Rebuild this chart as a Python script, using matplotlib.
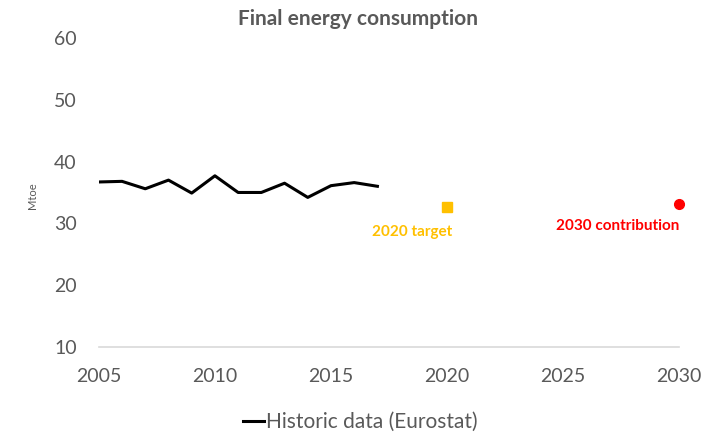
import matplotlib
matplotlib.use("Agg")
import matplotlib.pyplot as plt

# historic final energy consumption (Mtoe)
years = [2005, 2006, 2007, 2008, 2009, 2010, 2011, 2012, 2013, 2014, 2015, 2016, 2017]
consumption = [36.7, 36.8, 35.6, 37.0, 34.9, 37.7, 35.0, 35.0, 36.5, 34.2, 36.1, 36.6, 36.0]

target_year = [2020]
target_value = [32.6]
contrib_year = [2030]
contrib_value = [33.2]

xticks = [2005, 2010, 2015, 2020, 2025, 2030]
yticks = [10, 20, 30, 40, 50, 60]

plt.rcParams['font.family'] = ['Lato', 'DejaVu Sans']
grey = '#595959'

fig = plt.figure(figsize=(7.06, 4.33), dpi=100)
ax = fig.add_axes([0.140, 0.199, 0.822, 0.713])

ax.plot(years, consumption, color='black', linewidth=2.2, label='Historic data (Eurostat)')
ax.plot(target_year, target_value, 's', color='#FFC000', markersize=7, clip_on=False)
ax.plot(contrib_year, contrib_value, 'o', color='#FF0000', markersize=7, clip_on=False)

ax.annotate('2020 target', (target_year[0], target_value[0]), xytext=(-25, -17.5),
            textcoords='offset points', ha='center', va='center',
            color='#FFC000', fontsize=11, fontweight='bold')
ax.annotate('2030 contribution', (contrib_year[0], contrib_value[0]), xytext=(-44, -16.5),
            textcoords='offset points', ha='center', va='center',
            color='#FF0000', fontsize=11, fontweight='bold')

ax.set_xlim(2005, 2030)
ax.set_ylim(10, 60)
ax.set_xticks(xticks)
ax.set_yticks(yticks)
ax.tick_params(length=0, labelsize=14, colors=grey)
ax.tick_params(axis='x', pad=15)
ax.tick_params(axis='y', pad=16)

for s in ['top', 'right', 'left']:
    ax.spines[s].set_visible(False)
ax.spines['bottom'].set_color('#D9D9D9')
ax.spines['bottom'].set_linewidth(1.2)

ax.set_ylabel('Mtoe', fontsize=8, color=grey)
ax.yaxis.set_label_coords(-0.105, 0.49)
fig.text(0.507, 0.955, 'Final energy consumption', ha='center', va='center',
         fontsize=15, fontweight='bold', color=grey)

leg = fig.legend(loc='center', bbox_to_anchor=(0.51, 0.025), frameon=False,
                 fontsize=15, handlelength=1.0, handletextpad=0.1)
for t in leg.get_texts():
    t.set_color(grey)

fig.savefig('out.png', dpi=100)
